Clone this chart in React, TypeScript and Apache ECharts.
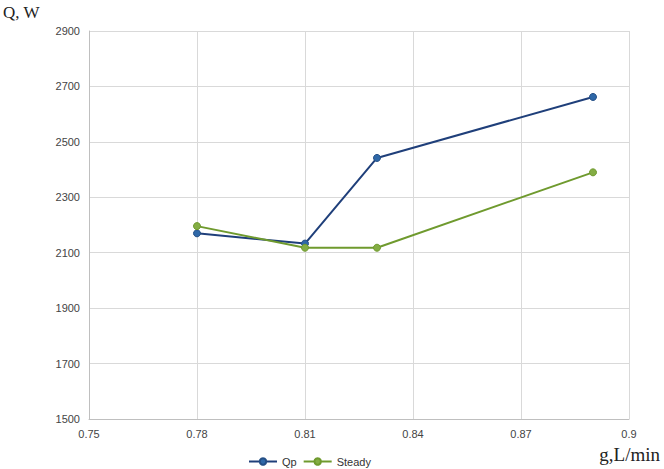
import React, { useEffect, useRef } from "react";
import * as echarts from "echarts";

const flowRates = [0.78, 0.81, 0.83, 0.89];
const qpValues = [2170, 2133, 2442, 2662];
const steadyValues = [2196, 2118, 2118, 2390];
const seriesNames = ["Qp", "Steady"];
const yAxisTitle = "Q, W";
const xAxisTitle = "g,L/min";

export default function App() {
  const ref = useRef<HTMLDivElement>(null);
  useEffect(() => {
    if (!ref.current) return;
    const chart = echarts.init(ref.current, undefined, { renderer: "svg" });
    const toPairs = (vals: number[]) => flowRates.map((x, i) => [x, vals[i]]);
    chart.setOption({
      animation: false,
      backgroundColor: "#ffffff",
      grid: { left: 89, right: 35, top: 31, bottom: 50, containLabel: false },
      graphic: [
        {
          type: "text",
          left: 3,
          top: 4,
          style: { text: yAxisTitle, font: '17px "Liberation Serif", "Times New Roman", serif', fill: "#222" },
        },
        {
          type: "text",
          right: 4,
          top: 445,
          style: { text: xAxisTitle, font: '19px "Liberation Serif", "Times New Roman", serif', fill: "#222" },
        },
      ],
      legend: {
        data: seriesNames,
        left: 243,
        top: 451,
        itemWidth: 28,
        itemHeight: 8,
        itemGap: 6,
        textStyle: { fontSize: 11, color: "#333", fontFamily: "Liberation Sans, Arial, sans-serif" },
      },
      xAxis: {
        type: "value",
        min: 0.75,
        max: 0.9,
        interval: 0.03,
        axisLine: { show: true, lineStyle: { color: "#bfbfbf", width: 1 } },
        axisTick: { show: false },
        axisLabel: {
          color: "#444",
          fontSize: 11,
          margin: 9,
          fontFamily: "Liberation Sans, Arial, sans-serif",
          formatter: (v: number) => String(parseFloat(v.toFixed(2))),
        },
        splitLine: { show: true, lineStyle: { color: "#d9d9d9", width: 1 } },
      },
      yAxis: {
        type: "value",
        min: 1500,
        max: 2900,
        interval: 200,
        axisLine: { show: true, lineStyle: { color: "#bfbfbf", width: 1 } },
        axisTick: { show: false },
        axisLabel: {
          color: "#444",
          fontSize: 11,
          margin: 9,
          fontFamily: "Liberation Sans, Arial, sans-serif",
          formatter: (v: number) => String(v),
        },
        splitLine: { show: true, lineStyle: { color: "#d9d9d9", width: 1 } },
      },
      series: [
        {
          name: seriesNames[0],
          type: "line",
          data: toPairs(qpValues),
          symbol: "circle",
          symbolSize: 7,
          lineStyle: { color: "#1f3f7a", width: 2 },
          itemStyle: { color: "#2f68a8", borderColor: "#244f86", borderWidth: 1 },
        },
        {
          name: seriesNames[1],
          type: "line",
          data: toPairs(steadyValues),
          symbol: "circle",
          symbolSize: 7,
          lineStyle: { color: "#6f9a2e", width: 2 },
          itemStyle: { color: "#84ad44", borderColor: "#6f9a2e", borderWidth: 1 },
        },
      ],
    });
    return () => chart.dispose();
  }, []);
  return <div ref={ref} style={{ width: 664, height: 469, position: "absolute", left: 0, top: 0 }} />;
}
